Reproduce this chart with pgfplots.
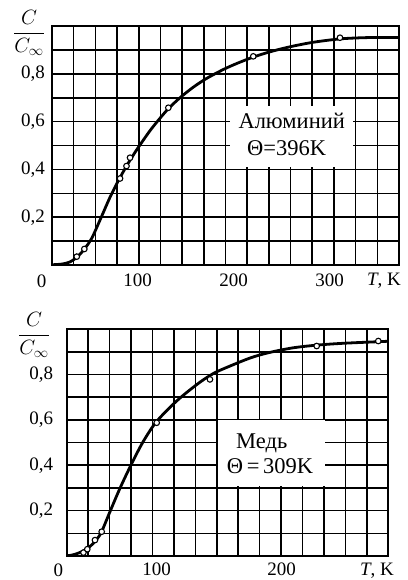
\documentclass[border=0pt]{standalone}
\usepackage{fontspec}
\setmainfont{Liberation Serif}
\usepackage{amsmath}
\usepackage{pgfplots}
\pgfplotsset{compat=1.18}
\newcommand{\lbl}{\fontsize{19bp}{22bp}\selectfont}
\newcommand{\boxlbl}{\fontsize{22.5bp}{26bp}\selectfont}
\pgfplotsset{
  debye/.style={
    scale only axis,
    axis line style={line width=2.2bp},
    grid=major,
    major grid style={line width=1.6bp, black},
    major tick length=0pt,
    xticklabels={}, yticklabels={},
    ymin=0, ymax=1,
    ytick={0,0.1,...,1.01},
    extra x tick style={grid=none, major tick length=0pt},
    extra y tick style={grid=none, major tick length=0pt},
    extra y ticks={0.2,0.4,0.6,0.8},
    extra y tick labels={{0,2},{0,4},{0,6},{0,8}},
    tick label style={font=\lbl},
  },
  curve/.style={black, line width=2.8bp, smooth, no marks},
  pts/.style={only marks, mark=*, mark size=2.8bp, mark options={fill=white, draw=black, line width=1.1bp}},
}
\begin{document}
\begin{tikzpicture}
\useasboundingbox (0,0) rectangle (408bp,-580bp);
% ---------- Aluminium ----------
\begin{axis}[debye, at={(52bp,-265bp)}, anchor=south west, width=347bp, height=239bp,
  xmin=10.7, xmax=372.2, xtick={10.7,33.294,...,373},
  extra x ticks={100,200,300}, extra x tick labels={100,200,300},
  xticklabel style={yshift=-5.5bp}, yticklabel style={xshift=-3.7bp}]
\addplot[curve] coordinates {
(10.7,0.001)(21.1,0.004)(29.5,0.013)(36.8,0.033)(44.1,0.065)(52.1,0.112)(60.7,0.188)
(71.1,0.283)(80.5,0.358)(88.5,0.415)(93.0,0.445)(100.6,0.492)(112.8,0.562)(123.2,0.614)
(131.9,0.654)(144.1,0.700)(157.9,0.744)(171.9,0.781)(189.2,0.818)(203.1,0.843)(220.4,0.870)
(237.8,0.892)(258.6,0.913)(282.9,0.932)(310.7,0.946)(334.7,0.951)(352.4,0.952)(372.2,0.952)};
\addplot[pts] coordinates {
(36.5,0.035)(44.4,0.067)(81.6,0.362)(88.3,0.414)(92.0,0.449)(131.9,0.658)(220.4,0.873)(310.7,0.951)};
\end{axis}
\fill[white] (230bp,-106bp) rectangle (353bp,-167bp);
\node[anchor=base, font=\boxlbl, inner sep=0pt] at (291.7bp,-128.3bp) {Алюминий};
\node[anchor=base, font=\boxlbl, inner sep=0pt] at (286.7bp,-155bp) {Θ=396K};
\node[font=\lbl, inner sep=0pt] at (41.7bp,-281bp) {0};
\node[font=\lbl, inner sep=0pt] at (384bp,-281bp) {\itshape T\upshape, K};
\node[font=\lbl, inner sep=0pt] at (29bp,-33bp) {$\dfrac{C}{C_\infty}$};
% ---------- Copper ----------
\begin{axis}[debye, at={(66.7bp,-556bp)}, anchor=south west, width=321.6bp, height=227bp,
  xmin=28, xmax=285.3, xtick={28,45.153,...,286},
  extra x ticks={100,200}, extra x tick labels={100,200},
  xticklabel style={yshift=-3.5bp}, yticklabel style={xshift=-10bp}]
\addplot[curve] coordinates {
(28.0,0.001)(32.2,0.004)(37.0,0.012)(41.8,0.024)(46.6,0.042)(52.0,0.073)(56.0,0.108)
(62.6,0.195)(70.6,0.298)(79.8,0.405)(89.3,0.505)(100.0,0.593)(116.0,0.683)(132.0,0.755)
(142.6,0.795)(150.6,0.818)(174.6,0.872)(190.6,0.897)(209.0,0.917)(228.2,0.929)(249.0,0.937)
(277.0,0.944)(285.3,0.946)};
\addplot[pts] coordinates {
(41.4,0.015)(44.5,0.030)(50.6,0.070)(56.0,0.107)(100.0,0.587)(142.6,0.778)(228.0,0.925)(277.3,0.947)};
\end{axis}
\fill[white] (218bp,-420bp) rectangle (325bp,-486bp);
\node[anchor=base, font=\boxlbl, inner sep=0pt] at (261.7bp,-448.3bp) {Медь};
\node[anchor=base, font=\boxlbl, inner sep=0pt] at (270bp,-473.3bp) {Θ\,=\,309K};
\node[font=\lbl, inner sep=0pt] at (58.3bp,-570.7bp) {0};
\node[font=\lbl, inner sep=0pt] at (377bp,-570.7bp) {\itshape T\upshape, K};
\node[font=\lbl, inner sep=0pt] at (34bp,-335bp) {$\dfrac{C}{C_\infty}$};
\end{tikzpicture}
\end{document}
